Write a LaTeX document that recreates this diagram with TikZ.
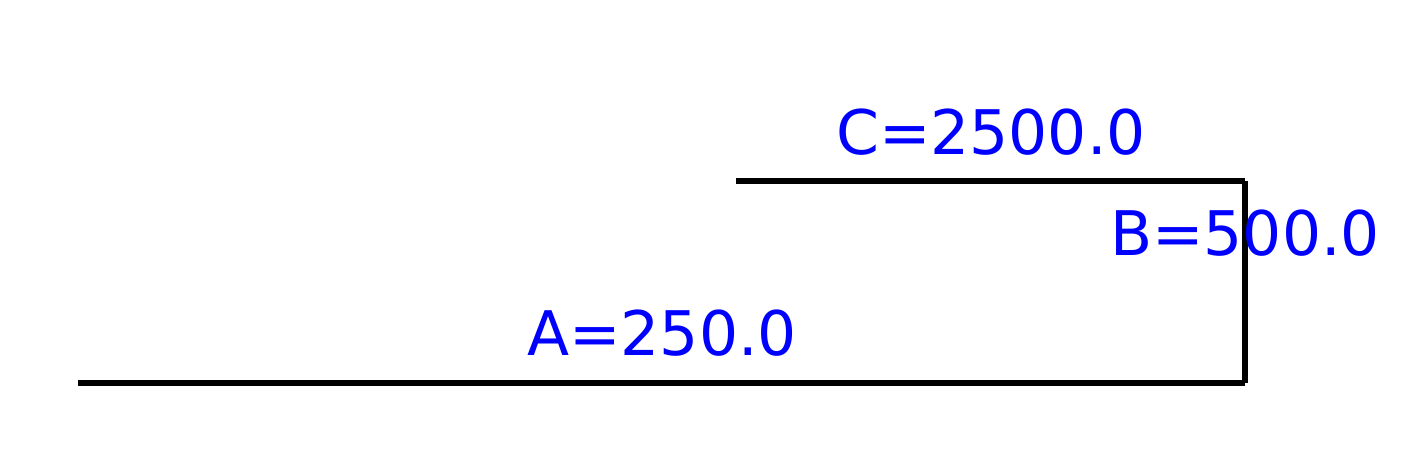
\documentclass[tikz,border=0pt]{standalone}
\usepackage{fontspec}
\setmainfont{DejaVu Sans}
\usepackage{tikz}
\usetikzlibrary{positioning}
\usepackage{xcolor}

\begin{document}
\begin{tikzpicture}[
    x=0.02cm, y=-0.02cm,
    seg/.style={line width=3.8pt, black},
    dimlabel/.style={text=blue, font=\fontsize{35}{40}\selectfont, inner sep=0pt}
]
\useasboundingbox (0,0) rectangle (1412,465);

\coordinate (p0) at (78,383);
\coordinate (p1) at (1245,383);
\coordinate (p2) at (1245,181);
\coordinate (p3) at (736,181);

\draw[seg] (p0) -- (p1);
\draw[seg] (p1) -- (p2);
\draw[seg] (p2) -- (p3);

\node[dimlabel] (la) at (662,333) {A=250.0};
\node[dimlabel] (lb) at (1245,233) {B=500.0};
\node[dimlabel] (lc) at (991,132) {C=2500.0};

\end{tikzpicture}
\end{document}
